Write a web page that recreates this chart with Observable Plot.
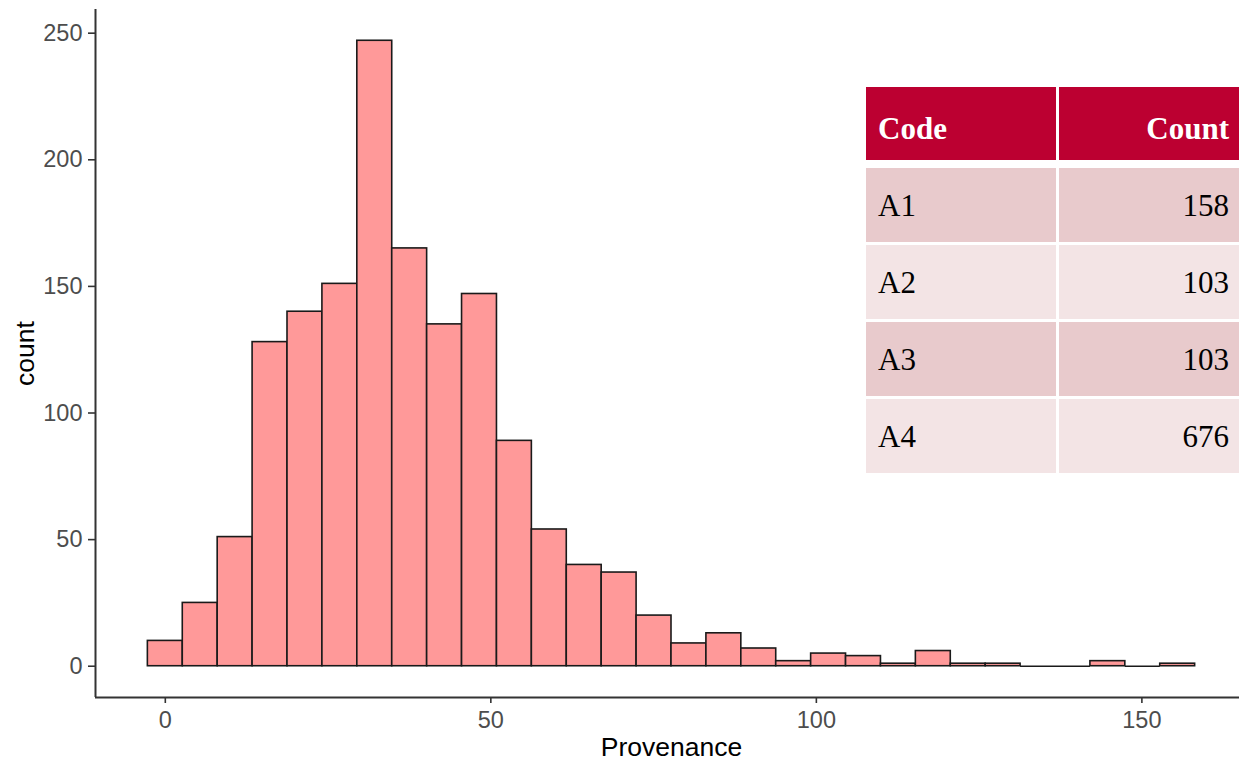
<!DOCTYPE html>
<html><head><meta charset="utf-8">
<script src="https://cdn.jsdelivr.net/npm/d3@7"></script>
<script src="https://cdn.jsdelivr.net/npm/@observablehq/plot@0.6"></script>
<style>
html,body{margin:0;padding:0;background:#fff;overflow:hidden}
#wrap{position:relative;width:1239px;height:761px;overflow:hidden}
#chart svg{display:block;max-width:none !important;height:761px !important}
table.kt{position:absolute;left:863px;top:84px;border-collapse:separate;border-spacing:3px;table-layout:fixed;width:381px;
  font-family:"Liberation Serif","Times New Roman",serif;font-size:31px;color:#000}
table.kt th,table.kt td{box-sizing:border-box;padding:0 12px;vertical-align:middle;line-height:1}
table.kt th{background:#BC0031;color:#fff;font-weight:bold;height:73px;padding-top:9px}
table.kt td{height:74px}
table.kt tr.odd td{background:#E8CACC}
table.kt tr.even td{background:#F3E4E5}
table.kt tr.spacer td{height:2px;padding:0;background:none}
.l{text-align:left}.r{text-align:right}
</style>
</head><body>
<div id="wrap"><div id="chart"></div></div>
<script>
// Histogram counts (30 bins)
const counts = [10, 25, 51, 128, 140, 151, 247, 165, 135, 147, 89, 54, 40, 37, 20, 9, 13, 7, 2, 5, 4, 1, 6, 1, 1, 0, 0, 2, 0, 1];
const binStart = -2.68;
const binWidth = 5.362;
const xTicks = [0, 50, 100, 150];
const yTicks = [0, 50, 100, 150, 200, 250];
// Table values
const codes = ["A1", "A2", "A3", "A4"];
const codeCounts = [158, 103, 103, 676];
const tableHeader = ["Code", "Count"];

const bins = counts.map((c, i) => ({x1: binStart + i * binWidth, x2: binStart + (i + 1) * binWidth, count: c}));
const xLo = bins[0].x1, xHi = bins[bins.length - 1].x2;
const xPad = (xHi - xLo) * 0.05;
const yMax = d3.max(counts);
const yPad = yMax * 0.05;
const xDomain = [xLo - xPad, xHi + xPad];
const yDomain = [-yPad, yMax + yPad];

const chart = Plot.plot({
  width: 1247,
  height: 761,
  marginLeft: 95,
  marginRight: 0,
  marginTop: 9,
  marginBottom: 64,
  style: {fontFamily: "'Liberation Sans', Arial, sans-serif", background: "#fff", maxWidth: "none"},
  x: {domain: xDomain},
  y: {domain: yDomain},
  marks: [
    Plot.rectY(bins.filter(d => d.count > 0), {x1: "x1", x2: "x2", y1: 0, y2: "count", fill: "#FF9999", stroke: "#1a1a1a", strokeWidth: 1.6, inset: 0}),
    Plot.ruleY(bins.filter(d => d.count === 0), {x1: "x1", x2: "x2", y: 0, stroke: "#1a1a1a", strokeWidth: 1.6}),
    Plot.ruleX([xDomain[0]], {y1: yDomain[0], y2: yDomain[1], stroke: "#333", strokeWidth: 2}),
    Plot.ruleY([yDomain[0]], {x1: xDomain[0], x2: xDomain[1], stroke: "#333", strokeWidth: 2}),
    Plot.axisY({ticks: yTicks, tickSize: 7, tickPadding: 6, fontSize: 23.5, stroke: "#333", fill: "#4D4D4D", strokeWidth: 1.6, label: null}),
    Plot.axisX({ticks: xTicks, tickSize: 6, tickPadding: 8, fontSize: 23.5, stroke: "#333", fill: "#4D4D4D", strokeWidth: 1.6, label: null}),
    Plot.text(["Provenance"], {frameAnchor: "bottom", dy: 58, fontSize: 26.5, fill: "#000", text: d => d}),
    Plot.text(["count"], {frameAnchor: "left", dx: -70, rotate: -90, textAnchor: "middle", lineAnchor: "middle", fontSize: 26.5, fill: "#000", text: d => d})
  ]
});
document.getElementById("chart").appendChild(chart);

// Table overlay
const tbl = document.createElement("table");
tbl.className = "kt";
let html = `<tr><th class="l" style="width:190px">${tableHeader[0]}</th><th class="r" style="width:182px">${tableHeader[1]}</th></tr>`;
html += `<tr class="spacer"><td colspan="2"></td></tr>`;
codes.forEach((c, i) => {
  html += `<tr class="${i % 2 === 0 ? "odd" : "even"}"><td class="l">${c}</td><td class="r">${codeCounts[i]}</td></tr>`;
});
tbl.innerHTML = html;
document.getElementById("wrap").appendChild(tbl);
</script>
</body></html>
